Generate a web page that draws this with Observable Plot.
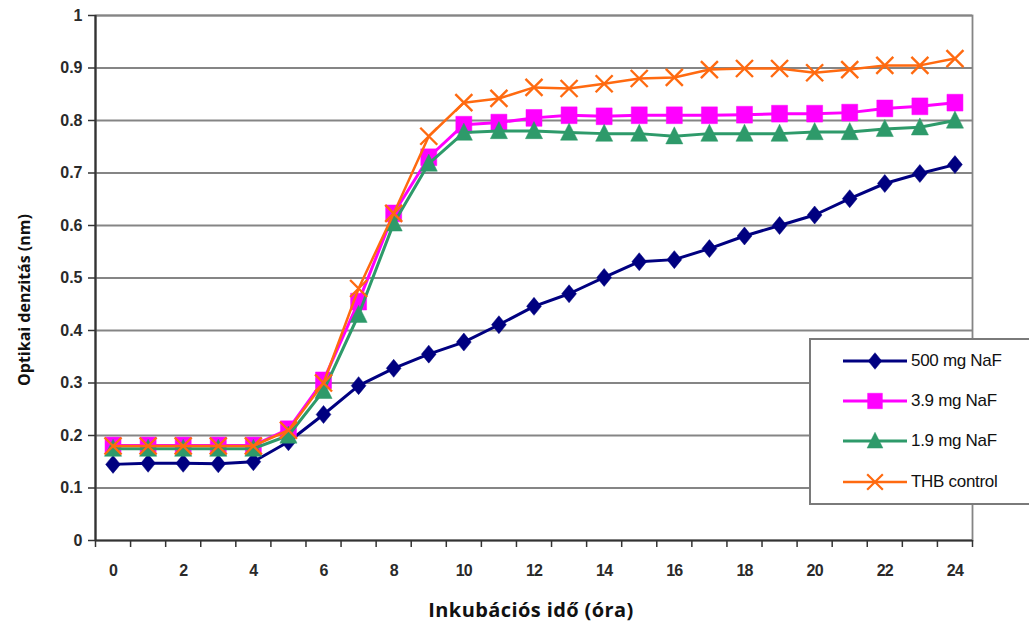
<!DOCTYPE html>
<html><head><meta charset="utf-8">
<script src="https://cdn.jsdelivr.net/npm/d3@7"></script>
<script src="https://cdn.jsdelivr.net/npm/@observablehq/plot@0.6"></script>
<style>
body{margin:0;background:#fff;}
#wrap{position:relative;width:1029px;height:626px;overflow:hidden;background:#fff;}
#legend{position:absolute;left:809px;top:338px;width:240px;height:163px;border:2px solid #7a7a7a;background:#fff;
 font-family:"Liberation Sans Narrow","Arial Narrow","Liberation Sans",sans-serif;font-size:17px;letter-spacing:-0.3px;color:#111;}
.row{position:absolute;left:30px;height:26px;display:flex;align-items:center;}
.row svg{display:block;margin-right:2px;}
.ttl{position:absolute;font-family:"Open Sans",sans-serif;font-weight:bold;color:#111;white-space:nowrap;}
#xt{left:0;width:1062px;text-align:center;top:598px;font-size:20px;line-height:24px;letter-spacing:0.4px;}
#yt{left:24px;top:300px;font-size:16px;transform:translate(-50%,-50%) rotate(-90deg);}
.xlab text{letter-spacing:-0.8px;}
</style></head>
<body><div id="wrap"></div>
<script>
// ---- data ----
const hours = [0,1,2,3,4,5,6,7,8,9,10,11,12,13,14,15,16,17,18,19,20,21,22,23,24];
const naf500 = [0.145,0.147,0.147,0.146,0.150,0.188,0.240,0.295,0.328,0.355,0.378,0.411,0.446,0.470,0.501,0.531,0.535,0.556,0.580,0.600,0.620,0.651,0.680,0.699,0.716];
const naf39  = [0.181,0.181,0.181,0.181,0.181,0.212,0.305,0.455,0.623,0.730,0.792,0.796,0.805,0.810,0.808,0.810,0.810,0.810,0.811,0.813,0.813,0.815,0.823,0.827,0.834];
const naf19  = [0.175,0.175,0.175,0.175,0.175,0.200,0.285,0.430,0.604,0.718,0.777,0.780,0.780,0.777,0.775,0.775,0.770,0.775,0.775,0.775,0.778,0.778,0.784,0.787,0.800];
const thb    = [0.180,0.180,0.180,0.180,0.180,0.210,0.300,0.480,0.623,0.770,0.834,0.842,0.863,0.861,0.870,0.880,0.882,0.897,0.899,0.899,0.891,0.897,0.905,0.905,0.918];
const seriesNames = ["500 mg NaF","3.9 mg NaF","1.9 mg NaF","THB control"];
const yTicks = [0,0.1,0.2,0.3,0.4,0.5,0.6,0.7,0.8,0.9,1];
const xTickLabels = [0,2,4,6,8,10,12,14,16,18,20,22,24];
const xTitle = "Inkubációs idő (óra)";
const yTitle = "Optikai denzitás (nm)";

// ---- symbols ----
const rOf = s => Math.sqrt(s/Math.PI);
const diamondSym = {draw(c,s){const r=rOf(s),w=r*0.82;c.moveTo(0,-r);c.lineTo(w,0);c.lineTo(0,r);c.lineTo(-w,0);c.closePath();}};
const squareSym = {draw(c,s){const r=rOf(s);c.moveTo(-r,-r*1.05);c.lineTo(r,-r*1.05);c.lineTo(r,r*1.05);c.lineTo(-r,r*1.05);c.closePath();}};
const triSym = {draw(c,s){const r=rOf(s);c.moveTo(0,-r*1.05);c.lineTo(r*0.95,r*0.85);c.lineTo(-r*0.95,r*0.85);c.closePath();}};
const timesSym = {draw(c,s){const r=rOf(s);c.moveTo(-r,-r);c.lineTo(r,r);c.moveTo(r,-r);c.lineTo(-r,r);}};

const series = [
 {name:seriesNames[0], values:naf500, color:"#000080", sym:diamondSym, r:9,   lw:3, filled:true},
 {name:seriesNames[1], values:naf39,  color:"#ff00ff", sym:squareSym,  r:8,   lw:3, filled:true},
 {name:seriesNames[2], values:naf19,  color:"#2e9a6a", sym:triSym,     r:9,   lw:3, filled:true},
 {name:seriesNames[3], values:thb,    color:"#ff6a10", sym:timesSym,   r:8.5, lw:2.5, filled:false}
];

const xBounds = hours.map(h => h - 0.5).concat([hours[hours.length-1] + 0.5]);

const marks = [
 Plot.gridY(yTicks.slice(1), {stroke:"#858585", strokeOpacity:1, strokeWidth:1.8}),
 Plot.frame({stroke:"#858585", strokeWidth:1.8}),
 Plot.ruleX([xBounds[0]], {stroke:"#333", strokeWidth:2.2}),
 Plot.ruleY([0], {stroke:"#333", strokeWidth:2.2}),
 Plot.axisY(yTicks, {tickSize:7, tickPadding:6, tickFormat:d => String(d), label:null, stroke:"#333", strokeWidth:1.5,
   fontSize:16, fill:"#2a2a2a"}),
 Plot.axisX(xBounds, {tickSize:7, tickFormat:() => "", label:null, stroke:"#333", strokeWidth:1.5}),
 Plot.axisX(xTickLabels, {tickSize:0, tickPadding:24, label:null, fontSize:16, fill:"#2a2a2a", className:"xlab"})
];
for (const s of series) {
 const rows = hours.map((h,i) => ({h, v:s.values[i]}));
 marks.push(Plot.line(rows, {x:"h", y:"v", stroke:s.color, strokeWidth:s.lw}));
 marks.push(Plot.dot(rows, {x:"h", y:"v", symbol:s.sym, r:s.r,
   fill: s.filled ? s.color : "none", stroke:s.color, strokeWidth: s.filled ? 0.5 : 2.4}));
}

const chart = Plot.plot({
 width:1029, height:626, marginLeft:95, marginRight:57, marginTop:15, marginBottom:86,
 x:{domain:[xBounds[0], xBounds[xBounds.length-1]]},
 y:{domain:[0,1]},
 style:{fontFamily:"'Liberation Sans',Arial,sans-serif", fontWeight:"bold", fontSize:"16px", color:"#2a2a2a", background:"#fff"},
 marks
});
const wrap = document.getElementById("wrap");
wrap.appendChild(chart);

// titles
const xt = document.createElement("div"); xt.className="ttl"; xt.id="xt"; xt.textContent=xTitle; wrap.appendChild(xt);
const yt = document.createElement("div"); yt.className="ttl"; yt.id="yt"; yt.textContent=yTitle; wrap.appendChild(yt);

// legend
const lg = document.createElement("div"); lg.id="legend"; wrap.appendChild(lg);
const rowTops = [8, 48, 88, 129];
series.forEach((s,k) => {
 const row = document.createElement("div"); row.className="row"; row.style.top = rowTops[k]+"px";
 const svg = d3.create("svg").attr("width",68).attr("height",26);
 svg.append("line").attr("x1",2).attr("x2",66).attr("y1",13).attr("y2",13).attr("stroke",s.color).attr("stroke-width",s.lw);
 svg.append("path").attr("transform","translate(34,13)")
   .attr("d", d3.symbol(s.sym, s.r*s.r*Math.PI*0.85)())
   .attr("fill", s.filled ? s.color : "none").attr("stroke", s.color).attr("stroke-width", s.filled?0.5:2.2);
 row.appendChild(svg.node());
 const t = document.createElement("span"); t.textContent = s.name; row.appendChild(t);
 lg.appendChild(row);
});
</script></body></html>
